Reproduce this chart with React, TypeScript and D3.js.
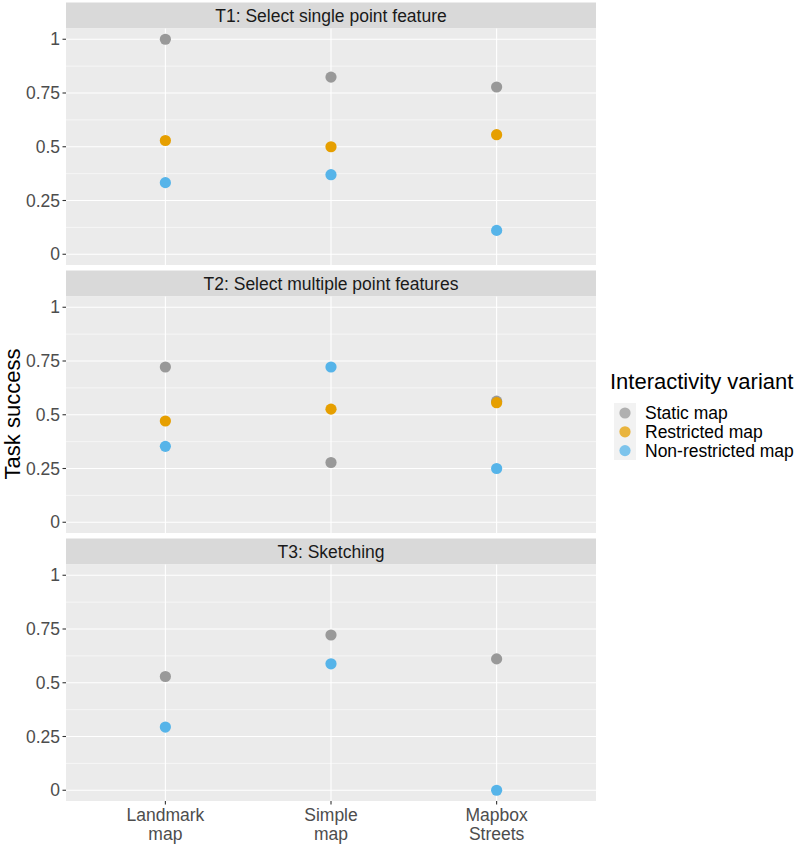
import React from "react";
import * as d3 from "d3";

const categories = ["Landmark map", "Simple map", "Mapbox Streets"];
const categoryLines = [["Landmark", "map"], ["Simple", "map"], ["Mapbox", "Streets"]];
const tasks = ["T1: Select single point feature", "T2: Select multiple point features", "T3: Sketching"];
const variants = ["Static map", "Restricted map", "Non-restricted map"];
const variantColors = ["#999999", "#E69F00", "#56B4E9"];
const yTicks = [0, 0.25, 0.5, 0.75, 1];
const yTickLabels = ["0", "0.25", "0.5", "0.75", "1"];
const yMinor = [0.125, 0.375, 0.625, 0.875];

// values[task][category]; null = not present
const staticValues = [
  [1.0, 0.824, 0.778],
  [0.722, 0.278, 0.563],
  [0.529, 0.722, 0.611],
];
const restrictedValues = [
  [0.529, 0.5, 0.556],
  [0.471, 0.526, 0.556],
  [null, null, null],
];
const nonRestrictedValues = [
  [0.333, 0.37, 0.111],
  [0.353, 0.722, 0.25],
  [0.294, 0.588, 0.0],
];

const W = 800;
const H = 846;
const panelLeft = 66;
const panelRight = 596;
const stripTop0 = 2.5;
const stripH = 26;
const panelH = 236.5;
const period = 268;
const font = "Liberation Sans, Arial, sans-serif";
const smallFont = 17.5;

export default function App() {
  const x = d3.scalePoint<string>().domain(categories).range([panelLeft, panelRight]).padding(0.6);
  const seriesByVariant = [staticValues, restrictedValues, nonRestrictedValues];

  return (
    <svg width={W} height={H} style={{ position: "absolute", left: 0, top: 0, background: "#fff" }}
      fontFamily={font}>
      {tasks.map((task, ti) => {
        const stripTop = stripTop0 + ti * period;
        const pTop = stripTop + stripH;
        const pBottom = pTop + panelH;
        const y = d3.scaleLinear().domain([-0.05, 1.05]).range([pBottom, pTop]);
        return (
          <g key={task}>
            <rect x={panelLeft} y={stripTop} width={panelRight - panelLeft} height={stripH} fill="#d9d9d9" />
            <text x={(panelLeft + panelRight) / 2} y={stripTop + stripH / 2 + 6} textAnchor="middle"
              fontSize={smallFont} fill="#1a1a1a">{task}</text>
            <rect x={panelLeft} y={pTop} width={panelRight - panelLeft} height={panelH} fill="#ebebeb" />
            {yMinor.map((v) => (
              <line key={"mn" + v} x1={panelLeft} x2={panelRight} y1={y(v)} y2={y(v)} stroke="#fff" strokeWidth={0.55} />
            ))}
            {yTicks.map((v) => (
              <line key={"mj" + v} x1={panelLeft} x2={panelRight} y1={y(v)} y2={y(v)} stroke="#fff" strokeWidth={1.1} />
            ))}
            {categories.map((c) => (
              <line key={"v" + c} x1={x(c)} x2={x(c)} y1={pTop} y2={pBottom} stroke="#fff" strokeWidth={1.1} />
            ))}
            {yTicks.map((v, i) => (
              <g key={"t" + v}>
                <line x1={panelLeft - 3.5} x2={panelLeft} y1={y(v)} y2={y(v)} stroke="#333" strokeWidth={1.1} />
                <text x={panelLeft - 6} y={y(v) + 6} textAnchor="end" fontSize={smallFont} fill="#4d4d4d">{yTickLabels[i]}</text>
              </g>
            ))}
            {seriesByVariant.map((series, vi) =>
              categories.map((c, ci) => {
                const val = series[ti][ci];
                if (val === null) return null;
                return <circle key={vi + "-" + ci} cx={x(c)} cy={y(val)} r={5.6} fill={variantColors[vi]} />;
              })
            )}
            {ti === tasks.length - 1 &&
              categories.map((c, ci) => (
                <g key={"xl" + c}>
                  <line x1={x(c)} x2={x(c)} y1={pBottom} y2={pBottom + 3.5} stroke="#333" strokeWidth={1.1} />
                  {categoryLines[ci].map((ln, li) => (
                    <text key={li} x={x(c)} y={pBottom + 20 + li * 18.5} textAnchor="middle" fontSize={smallFont} fill="#4d4d4d">{ln}</text>
                  ))}
                </g>
              ))}
          </g>
        );
      })}
      <text transform="translate(20,414) rotate(-90)" textAnchor="middle" fontSize={22} fill="#000">Task success</text>
      <text x={610} y={389} fontSize={22} fill="#000">Interactivity variant</text>
      <rect x={614} y={403} width={22} height={57} fill="#f2f2f2" />
      {variants.map((v, i) => (
        <g key={v}>
          <circle cx={625} cy={413 + i * 18.8} r={5.6} fill={variantColors[i]} opacity={0.75} />
          <text x={645} y={413 + i * 18.8 + 6} fontSize={smallFont} fill="#000">{v}</text>
        </g>
      ))}
    </svg>
  );
}
